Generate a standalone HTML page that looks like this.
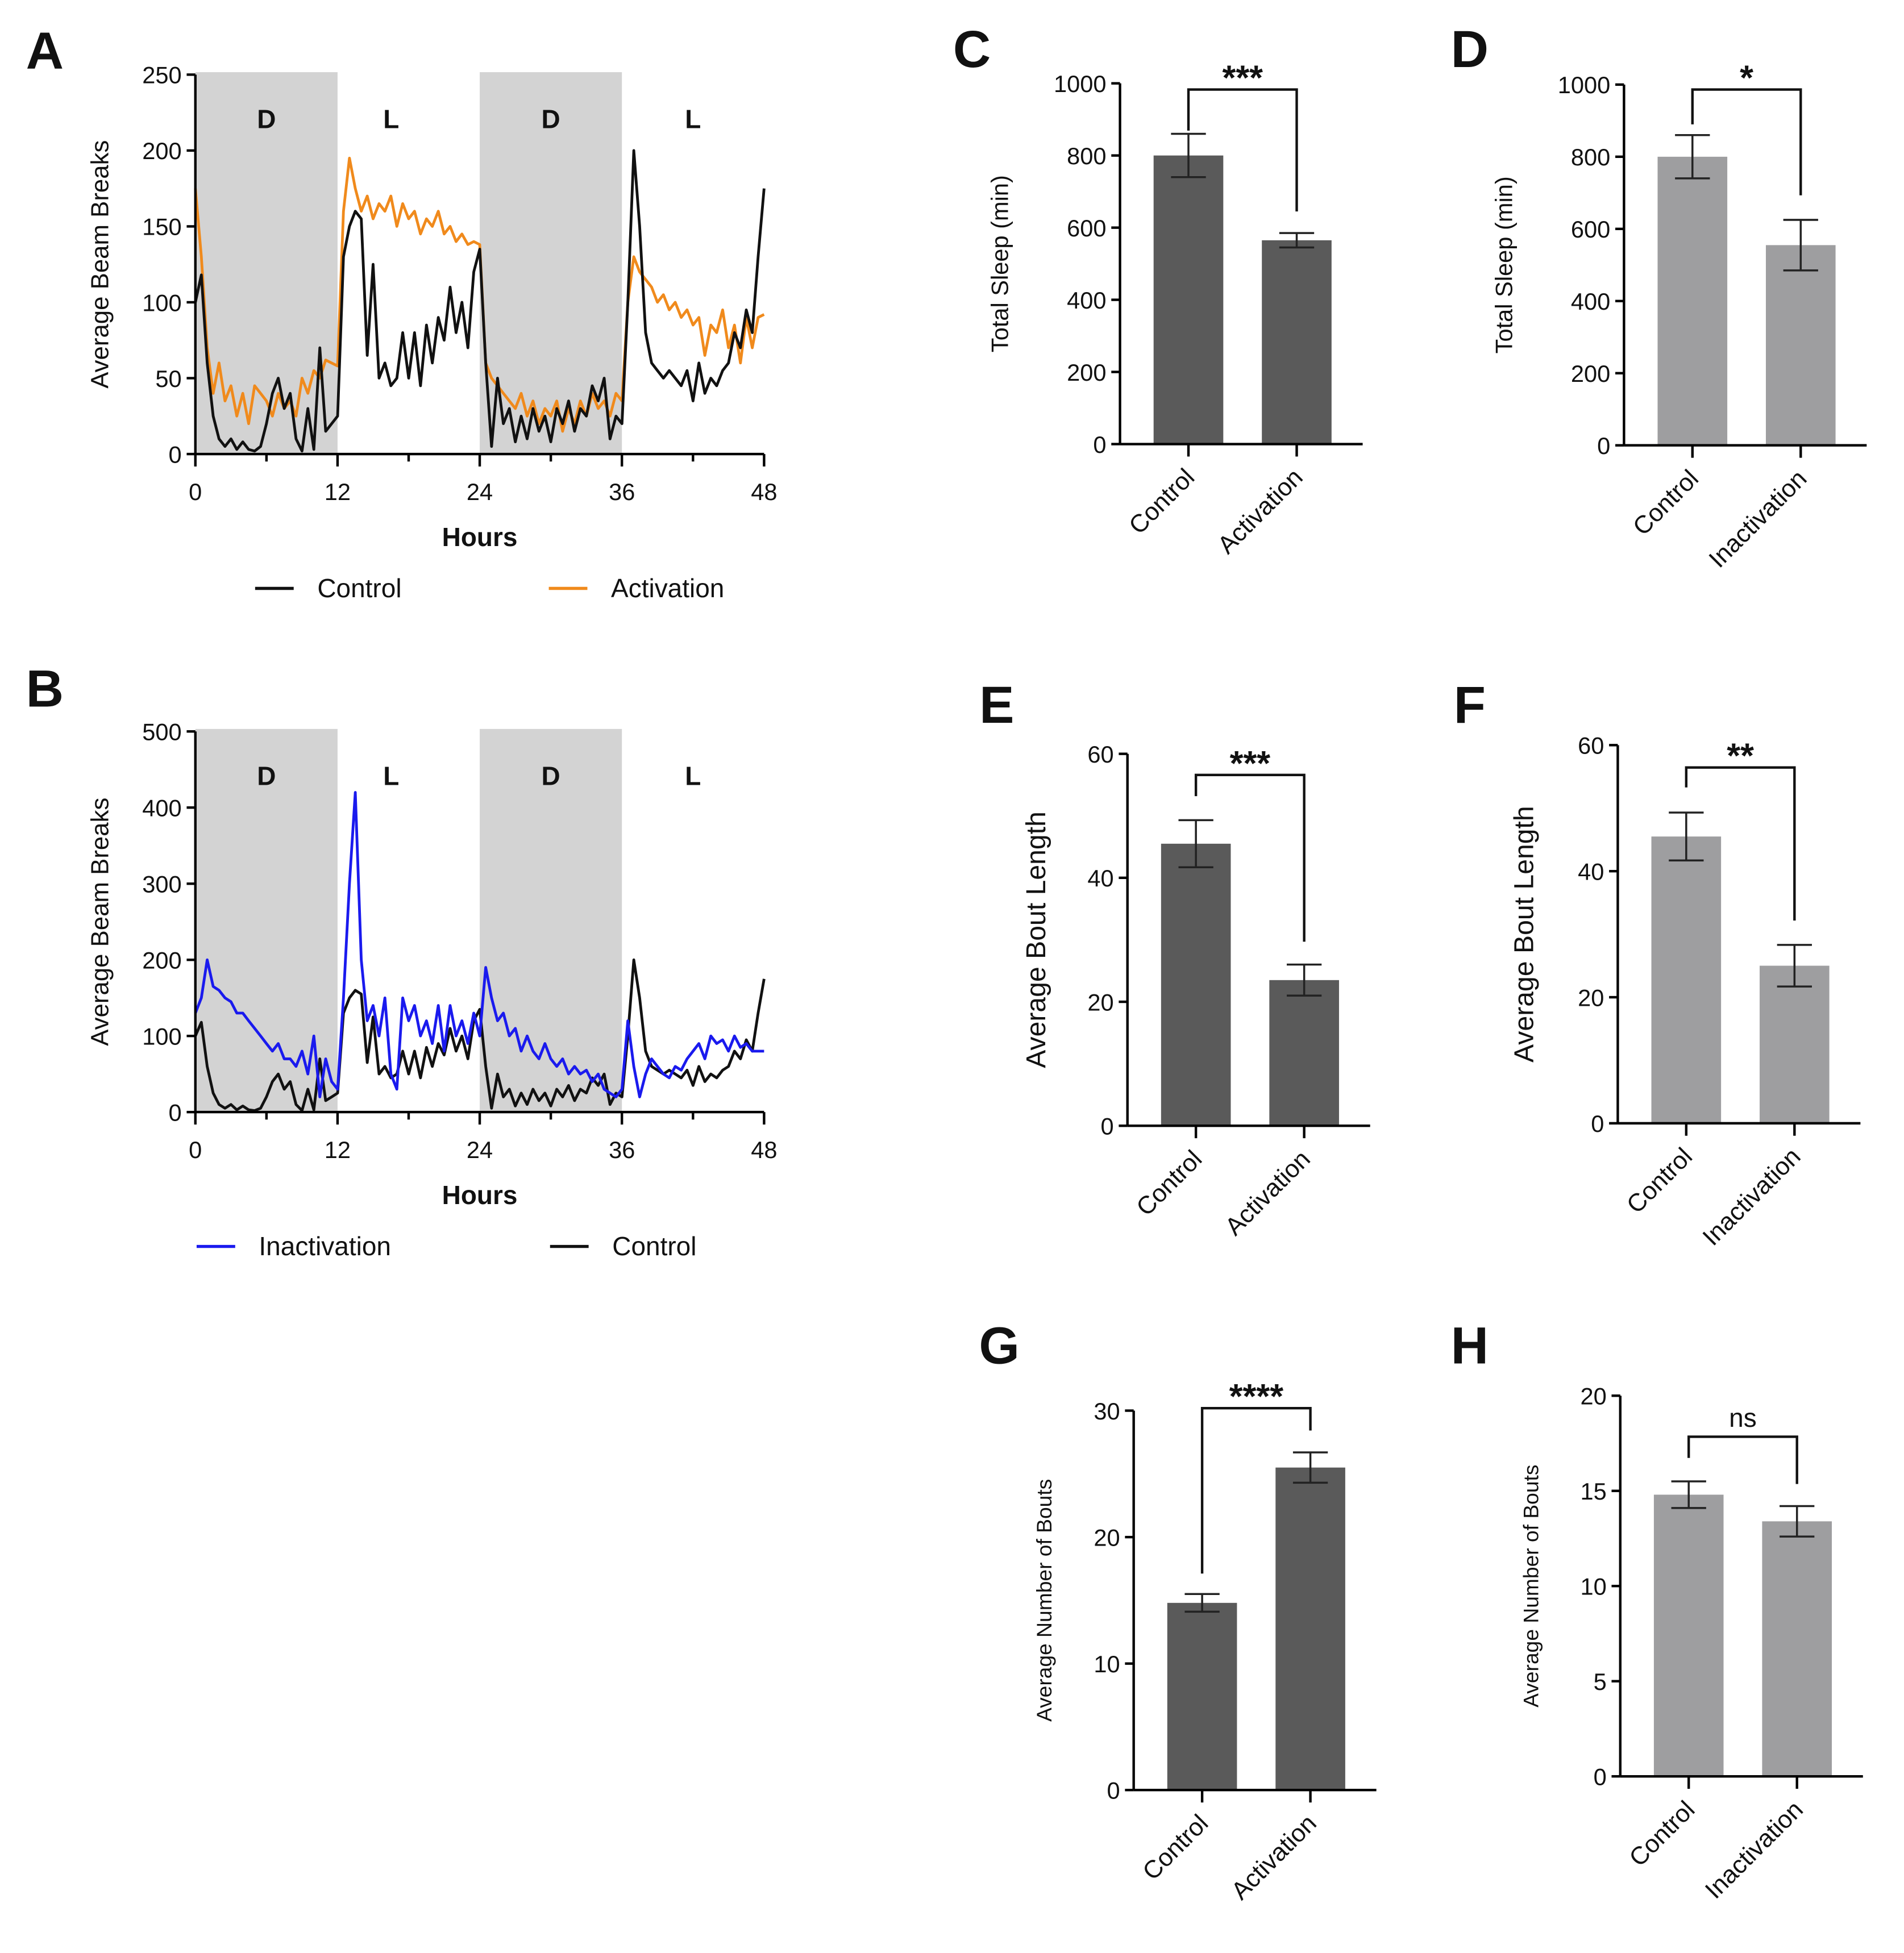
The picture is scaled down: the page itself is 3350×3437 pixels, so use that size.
<!DOCTYPE html>
<html><head><meta charset="utf-8"><style>
html,body{margin:0;padding:0;background:#fff}
svg{display:block}
text{font-family:"Liberation Sans",Arial,sans-serif;fill:#111}
</style></head><body>
<svg id="fig" xmlns="http://www.w3.org/2000/svg" width="3350" height="3437" viewBox="0 0 1530 1570" preserveAspectRatio="none">
<rect width="1530" height="1570" fill="#fff"/>
</svg>
<script>
const hours = [0,12,24,36,48];
const ctrlSeries = [100,118,60,25,10,5,10,3,8,3,2,5,20,40,50,30,40,10,2,30,3,70,15,20,25,
130,150,160,155,65,125,50,60,45,50,80,50,80,45,85,60,90,75,110,80,100,70,120,135,
60,5,50,20,30,8,25,10,30,15,25,8,30,20,35,15,30,25,45,35,50,10,25,20,
100,200,150,80,60,55,50,55,50,45,55,35,60,40,50,45,55,60,80,70,95,80,130,175];
const actSeries = [175,130,70,40,60,35,45,25,40,20,45,40,35,25,40,30,35,25,50,40,55,50,62,60,58,
160,195,175,160,170,155,165,160,170,150,165,155,160,145,155,150,160,145,150,140,145,138,140,138,
60,50,45,40,35,30,40,25,35,20,30,25,35,15,30,20,35,25,40,30,35,25,40,35,
100,130,120,115,110,100,105,95,100,90,95,85,90,65,85,80,95,70,85,60,90,70,90,92];
const inactSeries = [130,150,200,165,160,150,145,130,130,120,110,100,90,80,90,70,70,60,80,50,100,20,70,40,30,
150,300,420,200,120,140,100,150,50,30,150,120,140,100,120,90,140,80,140,100,120,90,130,100,
190,150,120,130,100,110,80,100,80,70,90,70,60,70,50,60,50,55,40,50,30,25,20,30,
120,60,20,50,70,60,50,45,60,55,70,80,90,70,100,90,95,80,100,85,90,80,80,80];
const ticksA = [0,50,100,150,200,250];
const ticksB = [0,100,200,300,400,500];
const barGroupsAct = ["Control","Activation"];
const barGroupsInact = ["Control","Inactivation"];
const sleepAct = [800,565], sleepActErr = [60,20];
const sleepInact = [800,555], sleepInactErr = [60,70];
const boutAct = [45.5,23.5], boutActErr = [3.8,2.5];
const boutInact = [45.5,25], boutInactErr = [3.8,3.3];
const numAct = [14.8,25.5], numActErr = [0.7,1.2];
const numInact = [14.8,13.4], numInactErr = [0.7,0.8];

const svg = document.getElementById('fig');
const NS = 'http://www.w3.org/2000/svg';
function mk(tag, attrs, parent, txt){
  const e = document.createElementNS(NS, tag);
  for (const k in attrs) e.setAttribute(k, attrs[k]);
  if (txt !== undefined) e.textContent = txt;
  (parent || svg).appendChild(e);
  return e;
}
function letter(t,x,y){
  const e = mk('text',{x:x,y:y,'font-size':42,'font-weight':'bold','text-anchor':'middle'},svg,t);
  
  
}

function linePanel(o){
  const g = mk('g',{});
  
  
  const X = h => o.x0 + (o.x1-o.x0)*h/48;
  const Y = v => o.y0 - (o.y0-o.y1)*v/o.ymax;
  [[0,12],[24,36]].forEach((r,i)=>{
    const s = mk('rect',{x:X(r[0]),y:o.y1-2,width:X(r[1])-X(r[0]),height:o.y0-o.y1+2,fill:'#d3d3d3'},g);
    
    
  });
  ['D','L','D','L'].forEach((t,i)=>{
    const e = mk('text',{x:X(6+12*i)+(i==1?-14:0),y:o.y1+43,'font-size':21,'font-weight':'bold','text-anchor':'middle'},g,t);
    
    
  });
  o.series.forEach(s=>{
    const pts = s.data.map((v,i)=>X(i*0.5).toFixed(1)+','+Y(v).toFixed(1)).join(' ');
    const p = mk('polyline',{points:pts,fill:'none',stroke:s.color,'stroke-width':2.2,'stroke-linejoin':'round'},g);
    
    
  });
  mk('line',{x1:o.x0,y1:o.y0,x2:o.x0,y2:o.y1,stroke:'#000','stroke-width':2},g);
  mk('line',{x1:o.x0,y1:o.y0,x2:o.x1,y2:o.y0,stroke:'#000','stroke-width':2},g);
  o.ticks.forEach(v=>{
    mk('line',{x1:o.x0-7,y1:Y(v),x2:o.x0,y2:Y(v),stroke:'#000','stroke-width':2},g);
    const t = mk('text',{x:o.x0-11,y:Y(v)+7,'font-size':19,'text-anchor':'end'},g,v);
    
    
  });
  for (let h=0; h<=48; h+=6){
    mk('line',{x1:X(h),y1:o.y0,x2:X(h),y2:o.y0+(h%12?6:10),stroke:'#000','stroke-width':2},g);
  }
  hours.forEach(h=>{
    const t = mk('text',{x:X(h),y:o.y0+37,'font-size':19,'text-anchor':'middle'},g,h);
    
    
  });
  const xt = mk('text',{x:X(24),y:o.y0+74,'font-size':21,'font-weight':'bold','text-anchor':'middle'},g,'Hours');
  
  
  const yc = (o.y0+o.y1)/2;
  const yt = mk('text',{x:87,y:yc,'font-size':20,'text-anchor':'middle',transform:'rotate(-90 87 '+yc+')'},g,'Average Beam Breaks');
  
  
  o.legend.forEach(l=>{
    const lg = mk('g',{},g);
    
    
    mk('line',{x1:l.x,y1:o.y0+108,x2:l.x+31,y2:o.y0+108,stroke:l.color,'stroke-width':2.5},lg);
    mk('text',{x:l.x+50,y:o.y0+115,'font-size':21},lg,l.label);
  });
}

linePanel({name:'panel-a-activity-chart',x0:157,x1:614,y0:365,y1:60,ymax:250,ticks:ticksA,
  series:[{name:'activation',data:actSeries,color:'#f08a1c'},{name:'control',data:ctrlSeries,color:'#111'}],
  legend:[{x:205,label:'Control',color:'#111'},{x:441,label:'Activation',color:'#f08a1c'}]});
linePanel({name:'panel-b-activity-chart',x0:157,x1:614,y0:894,y1:588,ymax:500,ticks:ticksB,
  series:[{name:'control',data:ctrlSeries,color:'#111'},{name:'inactivation',data:inactSeries,color:'#1a1aee'}],
  legend:[{x:158,label:'Inactivation',color:'#1a1aee'},{x:442,label:'Control',color:'#111'}]});

function barPanel(o){
  const g = mk('g',{});
  
  
  const Y = v => o.y0 - (o.y0-o.y1)*v/o.ymax;
  const cx = [o.ax+55, o.ax+142];
  o.vals.forEach((v,i)=>{
    const b = mk('rect',{x:cx[i]-28,y:Y(v),width:56,height:o.y0-Y(v),fill:o.color},g);
    
    
    const e = o.errs[i];
    const eb = mk('path',{d:`M${cx[i]},${Y(v-e)}V${Y(v+e)}M${cx[i]-14},${Y(v+e)}H${cx[i]+14}M${cx[i]-14},${Y(v-e)}H${cx[i]+14}`,stroke:'#222','stroke-width':1.6,fill:'none'},g);
    
    
  });
  mk('line',{x1:o.ax,y1:o.y0,x2:o.ax,y2:o.y1,stroke:'#000','stroke-width':2},g);
  mk('line',{x1:o.ax,y1:o.y0,x2:o.ax+195,y2:o.y0,stroke:'#000','stroke-width':2},g);
  o.ticks.forEach(v=>{
    mk('line',{x1:o.ax-7,y1:Y(v),x2:o.ax,y2:Y(v),stroke:'#000','stroke-width':2},g);
    const t = mk('text',{x:o.ax-11,y:Y(v)+7,'font-size':19,'text-anchor':'end'},g,v);
    
    
  });
  o.groups.forEach((gname,i)=>{
    mk('line',{x1:cx[i],y1:o.y0,x2:cx[i],y2:o.y0+10,stroke:'#000','stroke-width':2},g);
    const tx = cx[i]+6, ty = o.y0+28;
    const t = mk('text',{x:tx,y:ty,'font-size':20,'text-anchor':'end',transform:`rotate(-45 ${tx} ${ty})`},g,gname);
    
    
  });
  const yc = (o.y0+o.y1)/2, tx = o.ax-o.tOff;
  const yt = mk('text',{x:tx,y:yc,'font-size':o.tSize,'text-anchor':'middle',transform:`rotate(-90 ${tx} ${yc})`},g,o.title);
  
  
  const br = mk('path',{d:`M${cx[0]},${o.bl}V${o.by}H${cx[1]}V${o.brr}`,stroke:'#111','stroke-width':2,fill:'none'},g);
  
  
  const st = mk('text',{x:(cx[0]+cx[1])/2,y:o.by-(o.sig=='ns'?8:0),'font-size':o.sig=='ns'?21:28,'font-weight':o.sig=='ns'?'normal':'bold','text-anchor':'middle'},g,o.sig);
  
  
}
const dark='#5a5a5a', light='#9e9ea0';
barPanel({name:'panel-c-total-sleep',ax:900,y0:357,y1:67,ymax:1000,ticks:[0,200,400,600,800,1000],vals:sleepAct,errs:sleepActErr,groups:barGroupsAct,color:dark,title:'Total Sleep (min)',tOff:90,tSize:19,sig:'***',by:72,bl:105,brr:170});
barPanel({name:'panel-d-total-sleep',ax:1305,y0:358,y1:68,ymax:1000,ticks:[0,200,400,600,800,1000],vals:sleepInact,errs:sleepInactErr,groups:barGroupsInact,color:light,title:'Total Sleep (min)',tOff:90,tSize:19,sig:'*',by:72,bl:100,brr:157});
barPanel({name:'panel-e-bout-length',ax:906,y0:905,y1:606,ymax:60,ticks:[0,20,40,60],vals:boutAct,errs:boutActErr,groups:barGroupsAct,color:dark,title:'Average Bout Length',tOff:66,tSize:22,sig:'***',by:623,bl:640,brr:757});
barPanel({name:'panel-f-bout-length',ax:1300,y0:903,y1:599,ymax:60,ticks:[0,20,40,60],vals:boutInact,errs:boutInactErr,groups:barGroupsInact,color:light,title:'Average Bout Length',tOff:68,tSize:22,sig:'**',by:617,bl:633,brr:740});
barPanel({name:'panel-g-number-of-bouts',ax:911,y0:1439,y1:1134,ymax:30,ticks:[0,10,20,30],vals:numAct,errs:numActErr,groups:barGroupsAct,color:dark,title:'Average Number of Bouts',tOff:66,tSize:17,sig:'****',by:1132,bl:1265,brr:1150});
barPanel({name:'panel-h-number-of-bouts',ax:1302,y0:1428,y1:1122,ymax:20,ticks:[0,5,10,15,20],vals:numInact,errs:numInactErr,groups:barGroupsInact,color:light,title:'Average Number of Bouts',tOff:66,tSize:17,sig:'ns',by:1155,bl:1172,brr:1193});

letter('A',36,55); letter('B',36,568); letter('C',781,54); letter('D',1181,54);
letter('E',801,581); letter('F',1181,581); letter('G',803,1096); letter('H',1181,1096);
</script>
</body></html>
